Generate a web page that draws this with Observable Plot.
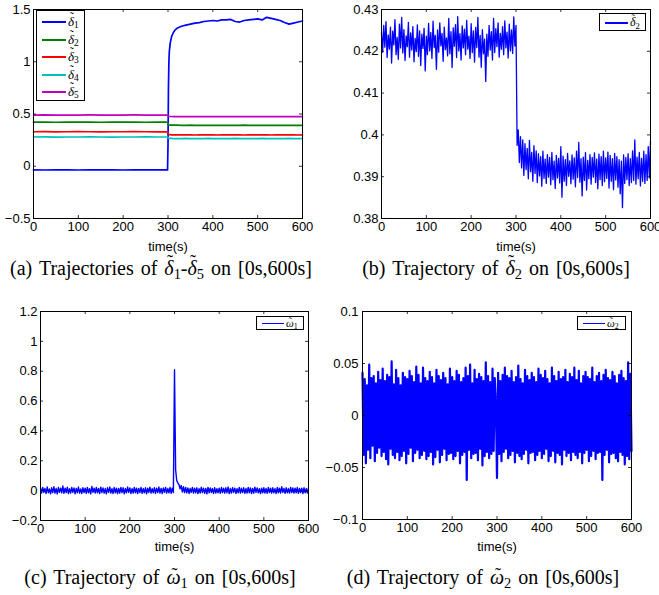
<!DOCTYPE html>
<html><head><meta charset="utf-8">
<script src="https://cdn.jsdelivr.net/npm/d3@7"></script>
<script src="https://cdn.jsdelivr.net/npm/@observablehq/plot@0.6"></script>
<style>
body{margin:0;background:#fff;}
#fig{position:relative;width:659px;height:595px;overflow:hidden;background:#fff;}
.cap{position:absolute;transform:translateX(-50%);white-space:nowrap;font-family:"Liberation Serif","Times New Roman",serif;font-size:20px;word-spacing:2px;color:#000;line-height:1;}
.cap sub,.leg sub{font-size:72%;vertical-align:-0.25em;line-height:0;font-style:normal;}
.leg{position:absolute;border:1px solid #000;background:#fff;box-sizing:border-box;font-family:"Liberation Serif","Times New Roman",serif;color:#000;}
.leg .ln{position:absolute;height:1.5px;}
.leg .tx{position:absolute;white-space:nowrap;line-height:1;transform:translateY(-55%);}
.acc{position:relative;display:inline-block;line-height:1;font-style:italic;}
.acc::after{content:"\02DC";position:absolute;left:0.05em;right:-0.05em;text-align:center;font-style:normal;line-height:1;font-size:0.9em;}
.acc.d::after{top:-0.28em;}
.acc.w::after{top:-0.08em;}
</style></head><body><div id="fig"></div>
<script>
// ---------- shared axis ticks ----------
const xTicks = [0, 100, 200, 300, 400, 500, 600];
const yTicksA = [-0.5, 0, 0.5, 1, 1.5];
const yTicksB = [0.38, 0.39, 0.4, 0.41, 0.42, 0.43];
const yTicksC = [-0.2, 0, 0.2, 0.4, 0.6, 0.8, 1, 1.2];
const yTicksD = [-0.1, -0.05, 0, 0.05, 0.1];

// ---------- panel (a): delta1..delta5 ----------
const tA = [0,25,50,75,100,125,150,175,200,225,250,275,299,300,301,302,303,305,308,312,316,320,
  330,340,350,360,370,380,390,400,410,420,430,440,450,460,470,480,490,500,510,520,530,540,550,560,570,580,590,600];
const delta1 = [-0.035,-0.036,-0.034,-0.035,-0.036,-0.035,-0.034,-0.035,-0.036,-0.035,-0.034,-0.035,-0.035,
  0.20,0.75,1.00,1.10,1.18,1.24,1.28,1.305,1.32,
  1.34,1.35,1.36,1.37,1.375,1.385,1.39,1.395,1.39,1.40,1.40,1.405,1.385,1.38,1.395,1.40,1.405,1.41,1.40,1.425,1.415,1.405,1.395,1.375,1.36,1.37,1.38,1.39];
const delta2 = [0.423,0.422,0.421,0.423,0.422,0.422,0.421,0.423,0.422,0.423,0.421,0.422,0.423,
  0.410,0.398,0.396,0.395,0.394,0.394,0.393,0.393,0.393,
  0.392,0.392,0.393,0.391,0.392,0.392,0.391,0.392,0.392,0.391,0.392,0.392,0.391,0.392,0.393,0.392,0.391,0.392,0.392,0.391,0.392,0.392,0.392,0.391,0.392,0.392,0.391,0.392];
const delta3 = [0.330,0.331,0.329,0.330,0.331,0.330,0.329,0.330,0.330,0.331,0.330,0.329,0.330,
  0.320,0.310,0.305,0.303,0.302,0.301,0.301,0.300,0.300,
  0.300,0.301,0.300,0.299,0.300,0.300,0.301,0.300,0.299,0.300,0.300,0.301,0.300,0.300,0.299,0.300,0.300,0.301,0.300,0.300,0.299,0.300,0.300,0.301,0.300,0.300,0.299,0.300];
const delta4 = [0.280,0.281,0.279,0.280,0.280,0.281,0.280,0.279,0.280,0.280,0.281,0.280,0.280,
  0.275,0.270,0.268,0.267,0.266,0.266,0.265,0.265,0.265,
  0.265,0.266,0.265,0.264,0.265,0.265,0.266,0.265,0.265,0.264,0.265,0.265,0.266,0.265,0.265,0.264,0.265,0.265,0.266,0.265,0.265,0.264,0.265,0.265,0.266,0.265,0.264,0.265];
const delta5 = [0.490,0.491,0.489,0.490,0.490,0.491,0.490,0.489,0.490,0.491,0.490,0.490,0.490,
  0.483,0.479,0.477,0.476,0.476,0.476,0.475,0.475,0.475,
  0.475,0.476,0.475,0.474,0.475,0.475,0.476,0.475,0.475,0.474,0.475,0.476,0.475,0.475,0.474,0.475,0.475,0.476,0.475,0.475,0.474,0.475,0.476,0.475,0.475,0.474,0.475,0.475];
const seriesA = [
  {name: "1", values: delta1, color: "#0000ff"},
  {name: "2", values: delta2, color: "#008000"},
  {name: "3", values: delta3, color: "#ff0000"},
  {name: "4", values: delta4, color: "#00bfbf"},
  {name: "5", values: delta5, color: "#bf00bf"}
];

// ---------- dense series sampled every 2.5 s (rows of 10 = 25 s) ----------
const dt = 2.5;
const delta2Dense = [
  0.4245,0.4198,0.4262,0.4210,0.4271,0.4185,0.4239,0.4205,0.4258,0.4172,
  0.4248,0.4215,0.4276,0.4192,0.4233,0.4181,0.4265,0.4208,0.4281,0.4196,
  0.4252,0.4178,0.4237,0.4211,0.4269,0.4186,0.4244,0.4203,0.4259,0.4175,
  0.4231,0.4199,0.4263,0.4188,0.4249,0.4166,0.4241,0.4207,0.4255,0.4153,
  0.4236,0.4192,0.4267,0.4201,0.4245,0.4183,0.4272,0.4209,0.4238,0.4157,
  0.4251,0.4198,0.4268,0.4213,0.4243,0.4176,0.4258,0.4204,0.4232,0.4189,
  0.4279,0.4194,0.4247,0.4161,0.4256,0.4212,0.4264,0.4185,0.4283,0.4201,
  0.4242,0.4179,0.4261,0.4208,0.4253,0.4192,0.4274,0.4205,0.4236,0.4183,
  0.4266,0.4197,0.4249,0.4174,0.4257,0.4209,0.4281,0.4186,0.4238,0.4162,
  0.4252,0.4194,0.4229,0.4128,0.4241,0.4188,0.4262,0.4203,0.4247,0.4179,
  0.4279,0.4197,0.4254,0.4211,0.4268,0.4186,0.4243,0.4205,0.4259,0.4192,
  0.4273,0.4208,0.4246,0.4184,0.4265,0.4201,0.4251,0.4195,0.4282,0.4213,
  0.4262,0.3975,0.4012,0.3934,0.3996,0.3921,0.3988,0.3903,0.3979,0.3917,
  0.3968,0.3895,0.3987,0.3912,0.3958,0.3889,0.3974,0.3908,0.3962,0.3886,
  0.3955,0.3902,0.3948,0.3877,0.3961,0.3896,0.3942,0.3884,0.3953,0.3899,
  0.3946,0.3881,0.3958,0.3893,0.3937,0.3872,0.3951,0.3897,0.3944,0.3885,
  0.3972,0.3851,0.3949,0.3889,0.3941,0.3879,0.3956,0.3901,0.3938,0.3883,
  0.3952,0.3894,0.3945,0.3876,0.3961,0.3898,0.3982,0.3887,0.3943,0.3854,
  0.3947,0.3891,0.3958,0.3868,0.3939,0.3895,0.3953,0.3882,0.3946,0.3899,
  0.3957,0.3886,0.3942,0.3871,0.3954,0.3893,0.3948,0.3879,0.3961,0.3888,
  0.3945,0.3896,0.3959,0.3873,0.3951,0.3889,0.3943,0.3869,0.3956,0.3892,
  0.3948,0.3875,0.3941,0.3859,0.3937,0.3826,0.3952,0.3884,0.3946,0.3893,
  0.3955,0.3879,0.3943,0.3886,0.3962,0.3891,0.3988,0.3882,0.3947,0.3895,
  0.3958,0.3878,0.3944,0.3889,0.3961,0.3884,0.3953,0.3891,0.3972,0.3897,
  0.3985];
const omega1Dense = [
  0.018,-0.016,0.022,-0.012,0.015,-0.019,0.024,-0.014,0.011,-0.021,
  0.019,-0.013,0.026,-0.017,0.014,-0.022,0.021,-0.011,0.017,-0.015,
  0.032,-0.018,0.016,-0.013,0.023,-0.020,0.013,-0.016,0.021,-0.012,
  0.018,-0.021,0.015,-0.014,0.024,-0.017,0.012,-0.019,0.020,-0.013,
  0.016,-0.018,0.022,-0.015,0.013,-0.021,0.028,-0.012,0.017,-0.016,
  0.021,-0.014,0.015,-0.020,0.023,-0.013,0.018,-0.017,0.014,-0.022,
  0.019,-0.012,0.025,-0.016,0.013,-0.019,0.021,-0.014,0.017,-0.020,
  0.015,-0.017,0.022,-0.013,0.019,-0.021,0.014,-0.015,0.024,-0.012,
  0.018,-0.019,0.013,-0.016,0.021,-0.014,0.017,-0.020,0.015,-0.013,
  0.022,-0.018,0.014,-0.015,0.019,-0.021,0.016,-0.012,0.023,-0.017,
  0.013,-0.014,0.020,-0.019,0.017,-0.013,0.024,-0.016,0.015,-0.020,
  0.018,-0.012,0.021,-0.017,0.014,-0.015,0.022,-0.018,0.016,-0.013,
  0.810,0.140,0.068,0.052,0.041,0.012,0.034,-0.009,0.027,-0.013,
  0.021,-0.015,0.018,-0.019,0.014,-0.012,0.022,-0.017,0.016,-0.014,
  0.019,-0.020,0.013,-0.016,0.023,-0.013,0.017,-0.018,0.015,-0.021,
  0.022,-0.014,0.018,-0.012,0.014,-0.019,0.020,-0.016,0.013,-0.015,
  0.017,-0.018,0.021,-0.013,0.016,-0.017,0.019,-0.014,0.024,-0.020,
  0.014,-0.016,0.020,-0.012,0.017,-0.019,0.013,-0.015,0.022,-0.017,
  0.016,-0.013,0.019,-0.018,0.014,-0.016,0.021,-0.014,0.018,-0.019,
  0.015,-0.017,0.023,-0.012,0.018,-0.015,0.013,-0.020,0.017,-0.014,
  0.020,-0.016,0.014,-0.018,0.022,-0.013,0.016,-0.017,0.019,-0.015,
  0.013,-0.019,0.021,-0.014,0.017,-0.016,0.026,-0.012,0.015,-0.018,
  0.019,-0.015,0.014,-0.017,0.022,-0.013,0.018,-0.016,0.016,-0.014,
  0.021,-0.018,0.015,-0.013,0.017,-0.020,0.019,-0.015,0.014,-0.016,
  0.018];
const omega2Dense = [
  0.041,-0.038,0.035,-0.046,0.029,-0.033,0.049,-0.041,0.036,-0.029,
  0.038,-0.044,0.031,-0.036,0.042,-0.031,0.034,-0.039,0.045,-0.035,
  0.033,-0.042,0.039,-0.047,0.037,-0.032,0.052,-0.038,0.030,-0.041,
  0.044,-0.035,0.036,-0.043,0.029,-0.039,0.041,-0.034,0.037,-0.046,
  0.035,-0.037,0.043,-0.031,0.038,-0.044,0.032,-0.036,0.047,-0.033,
  0.039,-0.041,0.031,-0.038,0.046,-0.034,0.036,-0.042,0.033,-0.039,
  0.042,-0.035,0.037,-0.047,0.031,-0.040,0.044,-0.033,0.038,-0.045,
  0.034,-0.038,0.041,-0.032,0.036,-0.043,0.030,-0.037,0.045,-0.036,
  0.037,-0.042,0.033,-0.039,0.043,-0.034,0.039,-0.046,0.032,-0.038,
  0.036,-0.035,0.046,-0.062,0.038,-0.033,0.049,-0.041,0.031,-0.037,
  0.044,-0.036,0.035,-0.043,0.040,-0.032,0.037,-0.048,0.033,-0.039,
  0.051,-0.035,0.038,-0.041,0.032,-0.037,0.045,-0.034,0.036,0.012,
  -0.060,0.041,-0.037,0.033,-0.044,0.039,-0.035,0.046,-0.032,0.038,
  -0.041,0.036,-0.038,0.043,-0.034,0.032,-0.045,0.037,-0.036,0.048,
  -0.039,0.035,-0.042,0.031,-0.037,0.044,-0.033,0.038,-0.046,0.034,
  -0.036,0.041,-0.035,0.037,-0.043,0.032,-0.038,0.045,-0.034,0.039,
  -0.041,0.036,-0.037,0.043,-0.032,0.035,-0.044,0.031,-0.039,0.046,
  -0.034,0.038,-0.045,0.033,-0.036,0.042,-0.038,0.035,-0.047,0.037,
  -0.033,0.044,-0.039,0.032,-0.036,0.040,-0.043,0.037,-0.035,0.046,
  -0.038,0.034,-0.041,0.043,-0.035,0.031,-0.046,0.038,-0.036,0.042,
  -0.033,0.037,-0.044,0.035,-0.039,0.046,-0.034,0.032,-0.042,0.038,
  -0.036,0.041,-0.035,0.033,-0.062,0.039,-0.038,0.044,-0.033,0.036,
  -0.045,0.034,-0.037,0.042,-0.036,0.038,-0.041,0.031,-0.044,0.039,
  -0.035,0.043,-0.038,0.036,-0.047,0.033,-0.039,0.051,-0.042,0.040,
  -0.034];

// ---------- helpers ----------
const fig = document.getElementById("fig");
const dense = arr => arr.map((v, i) => ({t: i * dt, v}));
const fmt = d => (d < 0 ? "\u2212" : "") + String(Math.abs(d));

function panel({left, top, width, height, ml, mr, mt, mb, yDomain, yTicks, lines, tickPad = 3}) {
  const innerW = width - ml - mr, innerH = height - mt - mb, tl = 3;
  const marks = [
    ...lines.map(s => Plot.line(s.data, {x: "t", y: "v", stroke: s.color, strokeWidth: s.w, strokeLinejoin: "round"})),
    Plot.tickX(xTicks, {x: d => d, insetTop: innerH - tl, stroke: "#000", strokeWidth: 0.8}),
    Plot.tickX(xTicks, {x: d => d, insetBottom: innerH - tl, stroke: "#000", strokeWidth: 0.8}),
    Plot.tickY(yTicks, {y: d => d, insetRight: innerW - tl, stroke: "#000", strokeWidth: 0.8}),
    Plot.tickY(yTicks, {y: d => d, insetLeft: innerW - tl, stroke: "#000", strokeWidth: 0.8}),
    Plot.frame({stroke: "#000", strokeWidth: 1}),
    Plot.axisX({ticks: xTicks, tickFormat: fmt, tickSize: 0, tickPadding: 3, label: "time(s)", labelAnchor: "center", labelArrow: "none", labelOffset: mb, fill: "#000"}),
    Plot.axisY({ticks: yTicks, tickFormat: fmt, tickSize: 0, tickPadding: tickPad, label: null, fill: "#000"})
  ];
  const svg = Plot.plot({
    width, height, marginLeft: ml, marginRight: mr, marginTop: mt, marginBottom: mb,
    x: {domain: [0, 600]}, y: {domain: yDomain},
    style: {fontFamily: "'Liberation Sans', Arial, Helvetica, sans-serif", fontSize: "13px", color: "#000", background: "transparent", overflow: "visible"},
    marks
  });
  svg.style.position = "absolute";
  svg.style.left = left + "px";
  svg.style.top = top + "px";
  fig.appendChild(svg);
}

function legend({left, top, width, height, x0, x1, tx, rows, fontSize, items}) {
  const box = document.createElement("div");
  box.className = "leg";
  Object.assign(box.style, {left: left + "px", top: top + "px", width: width + "px", height: height + "px", fontSize: fontSize + "px"});
  items.forEach((it, i) => {
    const ln = document.createElement("div");
    ln.className = "ln";
    Object.assign(ln.style, {left: x0 + "px", width: (x1 - x0) + "px", top: (rows[i] - 1) + "px", background: it.color});
    const tx2 = document.createElement("span");
    tx2.className = "tx";
    tx2.style.left = tx + "px";
    tx2.style.top = rows[i] + "px";
    tx2.innerHTML = it.label;
    box.appendChild(ln); box.appendChild(tx2);
  });
  fig.appendChild(box);
}

function caption(cx, top, html) {
  const d = document.createElement("div");
  d.className = "cap";
  d.style.left = cx + "px";
  d.style.top = top + "px";
  d.innerHTML = html;
  fig.appendChild(d);
}

const dl = '<span class="acc d">\u03B4</span>';
const om = '<span class="acc w">\u03C9</span>';

// (a)
panel({left: 0, top: 0, width: 330, height: 250, ml: 33, mr: 28, mt: 9, mb: 32,
  yDomain: [-0.5, 1.5], yTicks: yTicksA,
  lines: seriesA.map(s => ({data: tA.map((t, i) => ({t, v: s.values[i]})), color: s.color, w: 1.7}))});
legend({left: 36, top: 10, width: 49, height: 91, x0: 5, x1: 29, tx: 31, rows: [11, 29, 46, 64, 81], fontSize: 13,
  items: seriesA.map(s => ({label: dl + "<sub>" + s.name + "</sub>", color: s.color}))});

// (b)
panel({left: 330, top: 0, width: 329, height: 250, ml: 51, mr: 9, mt: 9, mb: 32,
  yDomain: [0.38, 0.43], yTicks: yTicksB,
  lines: [{data: dense(delta2Dense), color: "#0000ff", w: 1.3}]});
legend({left: 599, top: 13, width: 47, height: 18, x0: 5, x1: 28, tx: 30, rows: [9], fontSize: 12,
  items: [{label: dl + "<sub>2</sub>", color: "#0000ff"}]});

// (c)
panel({left: 0, top: 290, width: 330, height: 260, ml: 40, mr: 22, mt: 21, mb: 30,
  yDomain: [-0.2, 1.2], yTicks: yTicksC,
  lines: [{data: dense(omega1Dense), color: "#0000ff", w: 1.4}]});
legend({left: 256, top: 316, width: 48, height: 14, x0: 5, x1: 27, tx: 29, rows: [6.5], fontSize: 11,
  items: [{label: om + "<sub>1</sub>", color: "#0000ff"}]});

// (d)
panel({left: 330, top: 290, width: 329, height: 260, ml: 32, mr: 28, mt: 21, mb: 31, tickPad: 4,
  yDomain: [-0.1, 0.1], yTicks: yTicksD,
  lines: [{data: dense(omega2Dense), color: "#0000ff", w: 2.2}]});
legend({left: 577, top: 316, width: 49, height: 14, x0: 5, x1: 27, tx: 29, rows: [6.5], fontSize: 11,
  items: [{label: om + "<sub>2</sub>", color: "#0000ff"}]});

// captions
caption(161, 258, "(a) Trajectories of " + dl + "<sub>1</sub>-" + dl + "<sub>5</sub> on [0s,600s]");
caption(496, 258, "(b) Trajectory of " + dl + "<sub>2</sub> on [0s,600s]");
caption(160, 567, "(c) Trajectory of " + om + "<sub>1</sub> on [0s,600s]");
caption(483, 567, "(d) Trajectory of " + om + "<sub>2</sub> on [0s,600s]");
</script></body></html>
